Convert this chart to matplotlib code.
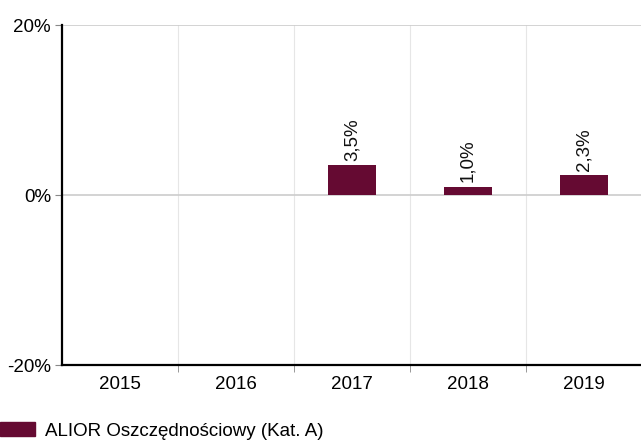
import matplotlib.pyplot as plt
from matplotlib.patches import Patch
import numpy as np

plt.rcParams['font.family'] = ['Liberation Sans', 'DejaVu Sans']

years = ['2015', '2016', '2017', '2018', '2019']
values = [np.nan, np.nan, 3.5, 1.0, 2.3]
series_name = 'ALIOR Oszczędnościowy (Kat. A)'
bar_color = '#650a32'
fs = 13.5

fig = plt.figure(figsize=(6.41, 4.41), dpi=100)
ax = fig.add_axes([62 / 641, 1 - 365 / 441, 580 / 641, 340 / 441])

x = np.arange(len(years))
ax.bar(x, values, width=0.41, color=bar_color, zorder=3)

for xi, v in zip(x, values):
    if np.isnan(v):
        continue
    ax.text(xi, v + 0.5, '{:.1f}%'.format(v).replace('.', ','),
            rotation=90, ha='center', va='bottom', fontsize=fs, color='#111111')

ax.set_xlim(-0.5, len(years) - 0.5)
ax.set_ylim(-20, 20)
ax.set_yticks([-20, 0, 20])
ax.set_yticklabels(['-20%', '0%', '20%'], fontsize=fs)
ax.set_xticks(x)
ax.set_xticklabels(years, fontsize=fs)
ax.tick_params(axis='x', length=0, pad=8)
ax.set_xticks(np.arange(len(years) - 1) + 0.5, minor=True)
ax.tick_params(axis='x', which='minor', length=5, color='#888888')
ax.tick_params(axis='y', length=5, color='#888888', pad=3)

for b in np.arange(len(years) - 1) + 0.5:
    ax.axvline(b, color='#e6e6e6', lw=0.8, zorder=1)
for yv in [0, 20]:
    ax.axhline(yv, color='#cccccc', lw=1.2, zorder=2)

ax.spines['top'].set_visible(False)
ax.spines['right'].set_visible(False)
ax.spines['left'].set_linewidth(1.6)
ax.spines['bottom'].set_linewidth(1.6)

fig.legend(handles=[Patch(color=bar_color, label=series_name)],
           loc='center left', bbox_to_anchor=(0, 1 - 431 / 441), frameon=False,
           fontsize=fs, handlelength=1.87, handleheight=0.75, handletextpad=0.53,
           borderpad=0, borderaxespad=0)

fig.savefig('out.png', dpi=100)
